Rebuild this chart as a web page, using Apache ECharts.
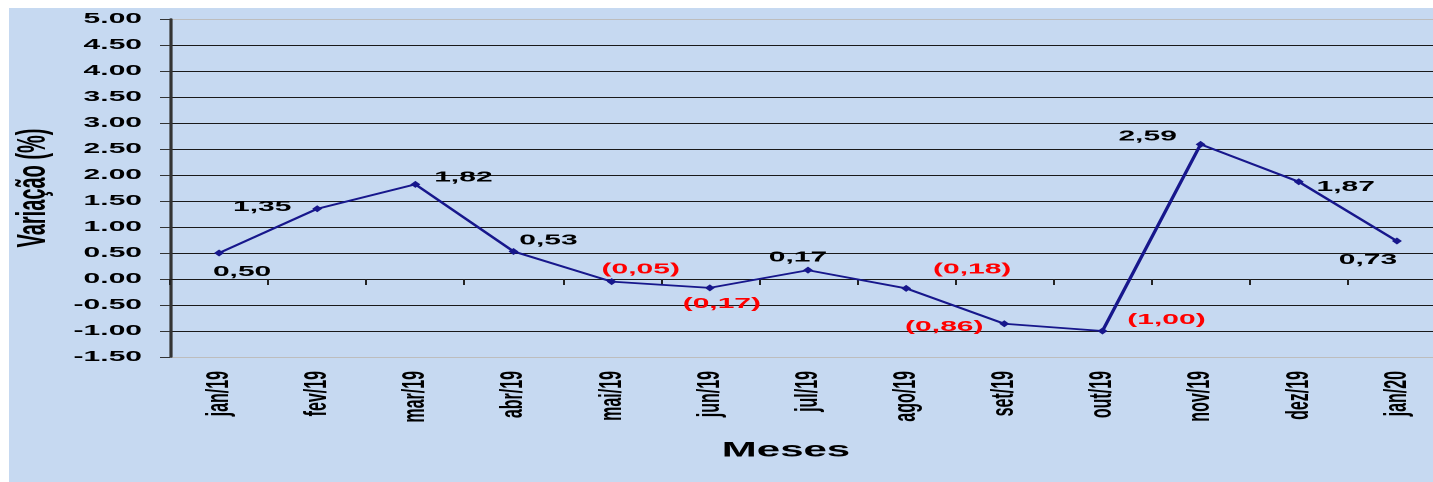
<!DOCTYPE html>
<html>
<head>
<meta charset="utf-8">
<script src="https://cdn.jsdelivr.net/npm/echarts@6/dist/echarts.min.js"></script>
<style>
  html, body { margin: 0; padding: 0; background: #ffffff; width: 1433px; height: 482px; overflow: hidden; }
  #chart { position: absolute; left: 9px; top: 8px; width: 712px; height: 474px; transform: scaleX(2); transform-origin: 0 0; }
</style>
</head>
<body>
<div id="chart"></div>
<script>
// ---- data ----
const categories = ['jan/19','fev/19','mar/19','abr/19','mai/19','jun/19','jul/19','ago/19','set/19','out/19','nov/19','dez/19','jan/20'];
const values = [0.50, 1.35, 1.82, 0.53, -0.05, -0.17, 0.17, -0.18, -0.86, -1.00, 2.59, 1.87, 0.73];
const yMin = -1.5, yMax = 5.0, yStep = 0.5;

// ---- label placement (style only) ----
const labelOffsets = [[11.5,19],[-27.5,-2],[24,-7],[17.5,-11],[14.5,-12],[6,16],[-5,-13],[33,-19],[-30,3],[32,-11],[-26.5,-8],[23.5,5],[-14.5,19]];

function fmt(v) {
  const s = Math.abs(v).toFixed(2).replace('.', ',');
  return v < 0 ? '(' + s + ')' : s;
}

const seriesData = values.map((v, i) => ({
  value: v,
  label: {
    show: true,
    position: 'inside',
    offset: labelOffsets[i],
    formatter: fmt(v),
    color: v < 0 ? '#ff0000' : '#000000',
    fontFamily: 'Liberation Sans',
    fontWeight: 'bold',
    fontSize: 15
  }
}));

const nLines = Math.round((yMax - yMin) / yStep) + 1;
const splitColors = [];
for (let i = 0; i < nLines; i++) splitColors.push((i === 0 || i === nLines - 1) ? '#bdbdbd' : '#1a1a1a');

const chart = echarts.init(document.getElementById('chart'), null, { renderer: 'canvas', devicePixelRatio: 2 });
chart.setOption({
  backgroundColor: '#c6d9f1',
  animation: false,
  grid: { left: 80.5, top: 11, width: 638, height: 338, containLabel: false, outerBoundsMode: 'none' },
  xAxis: [
    {
      type: 'category',
      data: categories,
      position: 'bottom',
      boundaryGap: true,
      axisLine: { show: true, onZero: true, lineStyle: { color: '#1a1a1a', width: 1 } },
      axisTick: { show: true, length: 6, lineStyle: { color: '#222', width: 1 } },
      axisLabel: { show: false },
      splitLine: { show: false }
    },
    {
      type: 'category',
      data: categories,
      position: 'bottom',
      boundaryGap: true,
      axisLine: { show: false, onZero: false },
      axisTick: { show: false },
      axisLabel: { show: true, rotate: 90, margin: 14, color: '#000', fontFamily: 'Liberation Sans', fontWeight: 'bold', fontSize: 16 },
      splitLine: { show: false },
      name: 'Meses',
      nameLocation: 'middle',
      nameGap: 83,
      nameMoveOverlap: false,
      nameTextStyle: { color: '#000', fontFamily: 'Liberation Sans', fontWeight: 'bold', fontSize: 21, padding: [0, 22, 0, 0] }
    }
  ],
  yAxis: {
    type: 'value',
    min: yMin, max: yMax, interval: yStep,
    axisLine: { show: true, onZero: false, lineStyle: { color: '#333333', width: 1.6 } },
    axisTick: { show: true, length: 5, lineStyle: { color: '#333333', width: 1 } },
    axisLabel: { margin: 14, color: '#000', fontFamily: 'Liberation Sans', fontWeight: 'bold', fontSize: 15, formatter: v => v.toFixed(2) },
    splitLine: { show: true, lineStyle: { color: splitColors, width: 1 } },
    name: 'Variação (%)',
    nameLocation: 'middle',
    nameGap: 58,
    nameMoveOverlap: false,
    nameTextStyle: { color: '#000', fontFamily: 'Liberation Sans', fontWeight: 'bold', fontSize: 20 }
  },
  series: [{
    type: 'line',
    xAxisIndex: 0,
    data: seriesData,
    symbol: 'diamond',
    symbolSize: [5, 7],
    lineStyle: { color: '#17178c', width: 1.8 },
    itemStyle: { color: '#17178c' }
  }]
});
</script>
</body>
</html>
